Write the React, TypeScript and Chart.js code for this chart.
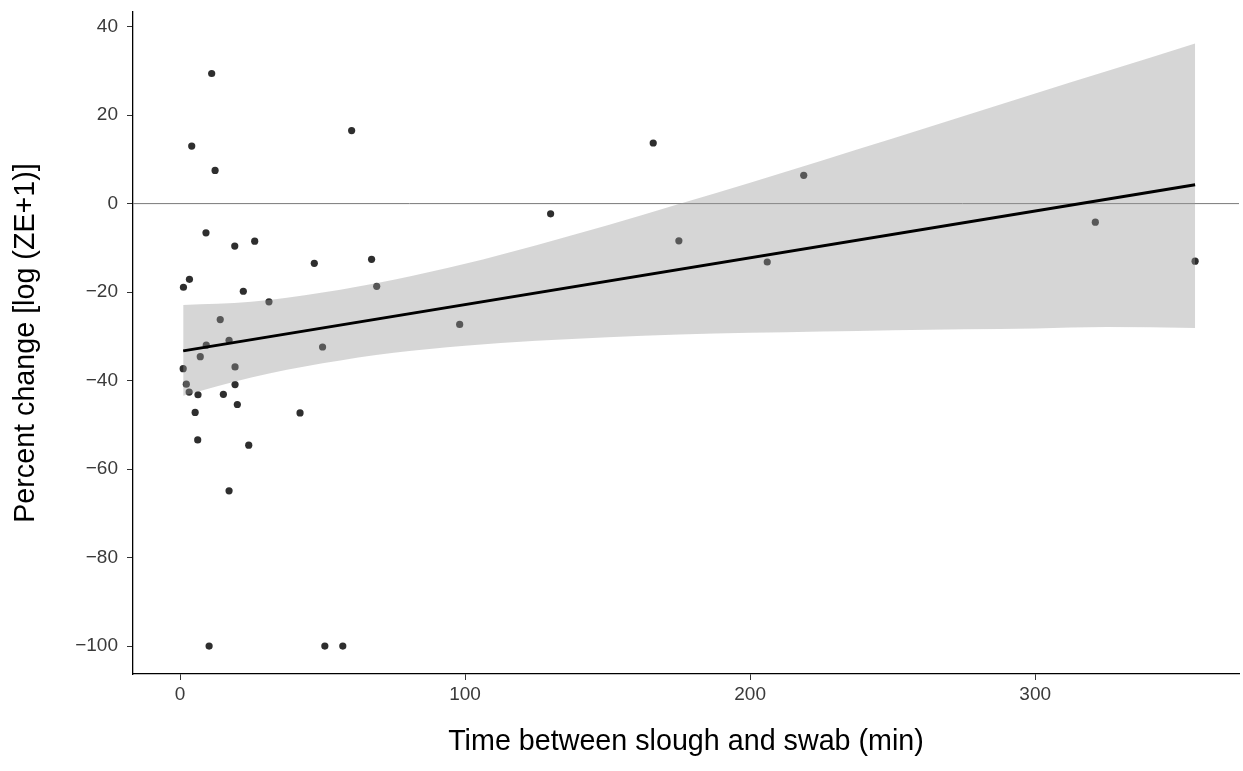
import React, { useEffect, useRef } from "react";
import { Chart, registerables } from "chart.js";

Chart.register(...registerables);

// Observations: time between slough and swab (min) vs percent change
const minutes = [
  1.2, 3.3, 4.1, 11.1, 12.3, 9.1, 19.2, 26.2, 22.2, 31.2,
  14.1, 17.2, 9.2, 7.1, 1.1, 19.3, 2.2, 3.2, 6.3, 15.2,
  19.3, 20.1, 5.3, 6.2, 24.1, 17.2, 10.2, 50.8, 57.1, 60.2,
  47.1, 67.2, 69.0, 50.0, 42.1, 98.1, 130.0, 166.0, 175.0, 206.0,
  218.8, 321.1, 356.1,
];
const percentChange = [
  -18.9, -17.1, 13.0, 29.4, 7.5, -6.6, -9.6, -8.5, -19.8, -22.2,
  -26.2, -30.9, -32.0, -34.6, -37.3, -36.9, -40.8, -42.6, -43.2, -43.1,
  -40.9, -45.4, -47.2, -53.4, -54.6, -64.9, -100, -100, -100, 16.5,
  -13.5, -12.6, -18.7, -32.4, -47.3, -27.3, -2.3, 13.7, -8.4, -13.2,
  6.4, -4.2, -13.0,
];

// Linear fit and its confidence band
const fitX = [1.1, 356.1];
const fitY = [-33.28, 4.27];
const bandX = [1.1, 25, 50, 75, 100, 125, 150, 175, 200, 225, 250, 275, 300, 325, 356.1];
const bandUpper = [-22.9, -22.2, -20.1, -17.2, -13.6, -9.4, -4.9, -0.1, 4.7, 9.7, 14.7, 19.8, 24.9, 29.9, 36.2];
const bandLower = [-43.4, -39.3, -36.1, -33.7, -32.1, -31.0, -30.2, -29.6, -29.2, -28.9, -28.6, -28.4, -28.2, -27.9, -28.1];

// Axis ranges and ticks
const xRange = [-16.5, 371.5];
const yRange = [-106.3, 43.3];
const xTicks = [0, 100, 200, 300];
const yTicks = [-100, -80, -60, -40, -20, 0, 20, 40];

const FONT = "'Liberation Sans', Arial, Helvetica, sans-serif";

export default function App() {
  const canvasRef = useRef<HTMLCanvasElement | null>(null);

  useEffect(() => {
    const canvas = canvasRef.current;
    if (!canvas) return;

    const points = minutes.map((x, i) => ({ x, y: percentChange[i] }));
    const fit = fitX.map((x, i) => ({ x, y: fitY[i] }));
    const upper = bandX.map((x, i) => ({ x, y: bandUpper[i] }));
    const lower = bandX.map((x, i) => ({ x, y: bandLower[i] }));

    const chart = new Chart(canvas, {
      type: "scatter",
      data: {
        datasets: [
          {
            label: "zero",
            data: [
              { x: xRange[0], y: 0 },
              { x: xRange[1], y: 0 },
            ],
            showLine: true,
            borderColor: "#7a7a7a",
            borderWidth: 1,
            pointRadius: 0,
            order: 5,
          },
          {
            label: "observations",
            data: points,
            pointRadius: 3.6,
            pointBackgroundColor: "#2e2e2e",
            pointBorderWidth: 0,
            order: 4,
          },
          {
            label: "upper",
            data: upper,
            showLine: true,
            borderColor: "transparent",
            pointRadius: 0,
            cubicInterpolationMode: "monotone",
            fill: "+1",
            backgroundColor: "rgba(153,153,153,0.4)",
            order: 3,
          },
          {
            label: "lower",
            data: lower,
            showLine: true,
            borderColor: "transparent",
            pointRadius: 0,
            cubicInterpolationMode: "monotone",
            fill: false,
            order: 3,
          },
          {
            label: "fit",
            data: fit,
            showLine: true,
            borderColor: "#000000",
            borderWidth: 3,
            pointRadius: 0,
            order: 1,
          },
        ],
      },
      options: {
        animation: false,
        responsive: false,
        devicePixelRatio: 1,
        layout: { padding: { top: 12, right: 3, left: 0, bottom: 0 } },
        plugins: {
          legend: { display: false },
          tooltip: { enabled: false },
        },
        scales: {
          x: {
            type: "linear",
            min: xRange[0],
            max: xRange[1],
            afterBuildTicks: (scale: any) => {
              scale.ticks = xTicks.map((v) => ({ value: v }));
            },
            afterFit: (scale: any) => {
              scale.height = 97;
            },
            ticks: {
              font: { family: FONT, size: 19 },
              color: "#3a3a3a",
              padding: 3,
              maxRotation: 0,
              callback: (v: any) => String(v),
            },
            grid: {
              drawOnChartArea: false,
              drawTicks: true,
              tickLength: 6,
              tickColor: "#333333",
              lineWidth: 1,
            },
            border: { display: true, color: "#000000", width: 1.3 },
            title: {
              display: true,
              text: "Time between slough and swab (min)",
              font: { family: FONT, size: 28.7 },
              color: "#000000",
              padding: { top: 0, bottom: 12 },
            },
          },
          y: {
            type: "linear",
            min: yRange[0],
            max: yRange[1],
            afterBuildTicks: (scale: any) => {
              scale.ticks = yTicks.map((v) => ({ value: v }));
            },
            afterFit: (scale: any) => {
              scale.width = 133;
              scale.paddingTop = 0;
              scale.paddingBottom = 0;
            },
            ticks: {
              font: { family: FONT, size: 19 },
              color: "#3a3a3a",
              padding: 9,
              callback: (v: any) => (v < 0 ? "\u2212" + Math.abs(v) : String(v)),
            },
            grid: {
              drawOnChartArea: false,
              drawTicks: true,
              tickLength: 6,
              tickColor: "#333333",
              lineWidth: 1,
            },
            border: { display: true, color: "#000000", width: 1.3 },
            title: {
              display: true,
              text: "Percent change [log (ZE+1)]",
              font: { family: FONT, size: 28.7 },
              color: "#000000",
              padding: { top: 9, bottom: 0 },
            },
          },
        },
      },
    } as any);

    return () => chart.destroy();
  }, []);

  return (
    <div style={{ position: "fixed", left: 0, top: 0, width: 1243, height: 771, background: "#ffffff" }}>
      <canvas ref={canvasRef} width={1243} height={771} />
    </div>
  );
}
